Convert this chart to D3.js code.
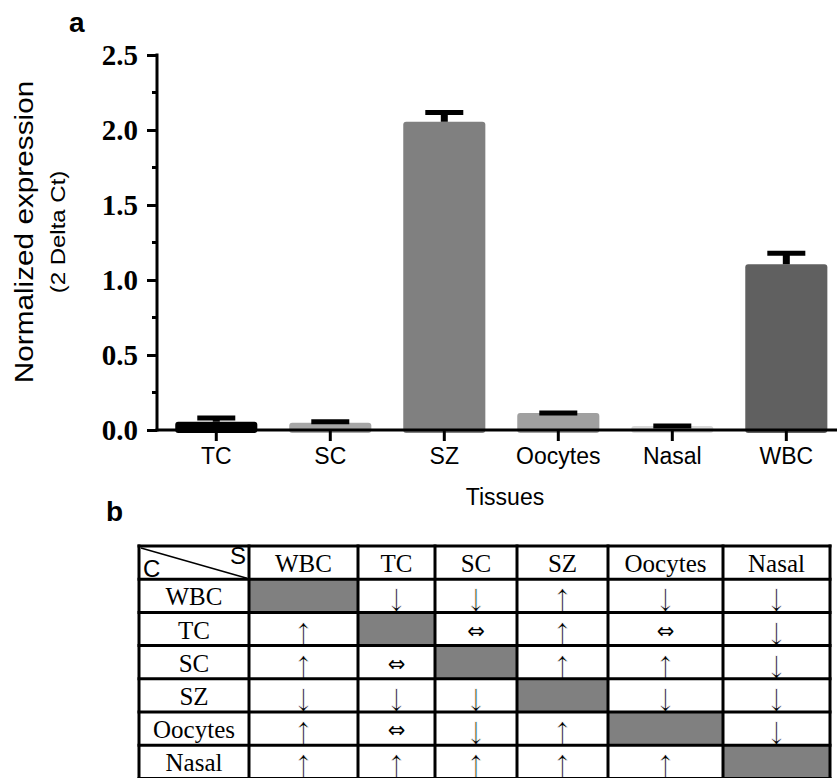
<!DOCTYPE html>
<html>
<head>
<meta charset="utf-8">
<script src="https://cdn.jsdelivr.net/npm/d3@7"></script>
<style>
  html, body { margin: 0; padding: 0; background: #fff; }
  svg { display: block; }
</style>
</head>
<body>
<svg id="chart" width="837" height="778"></svg>
<script>
// ---------- DATA ----------
const categories = ["TC", "SC", "SZ", "Oocytes", "Nasal", "WBC"];
const means      = [0.055, 0.049, 2.055, 0.113, 0.027, 1.105];
const errors     = [0.025, 0.006, 0.062, 0.0, 0.0, 0.074];
const barColors  = ["#000000", "#a6a6a6", "#808080", "#a0a0a0", "#d9d9d9", "#606060"];
const yTicks     = [0, 0.5, 1.0, 1.5, 2.0, 2.5];

const tableCols  = ["WBC", "TC", "SC", "SZ", "Oocytes", "Nasal"];
const tableRows  = ["WBC", "TC", "SC", "SZ", "Oocytes", "Nasal"];
// "x" = shaded (self-comparison) cell
const tableCells = [
  ["x", "↓", "↓", "↑", "↓", "↓"],
  ["↑", "x", "⇔", "↑", "⇔", "↓"],
  ["↑", "⇔", "x", "↑", "↑", "↓"],
  ["↓", "↓", "↓", "x", "↓", "↓"],
  ["↑", "⇔", "↓", "↑", "x", "↓"],
  ["↑", "↑", "↑", "↑", "↑", "x"]
];

// ---------- LAYOUT ----------
const svg = d3.select("#chart");
const sans = "Liberation Sans, Arial, sans-serif";
const serif = "Liberation Serif, Times New Roman, serif";

const x = d3.scaleBand().domain(categories)
  .range([157, 845.6]).paddingInner(0.28).paddingOuter(0.16);
const y = d3.scaleLinear().domain([0, 2.5]).range([430, 55]);

// panel label a
svg.append("text").attr("x", 69).attr("y", 32)
  .attr("font-family", sans).attr("font-weight", "bold").attr("font-size", 28)
  .text("a");

// bars
const g = svg.append("g");
g.selectAll("rect.bar").data(categories).join("rect")
  .attr("class", "bar")
  .attr("x", d => x(d))
  .attr("width", x.bandwidth())
  .attr("y", (d, i) => y(means[i]))
  .attr("height", (d, i) => y(0) - y(means[i]) + 3)
  .attr("rx", 3)
  .attr("fill", (d, i) => barColors[i]);

// error bars (upper)
categories.forEach((c, i) => {
  const cx = x(c) + x.bandwidth() / 2;
  const top = y(means[i] + errors[i]);
  if (errors[i] > 0) {
    g.append("line").attr("x1", cx).attr("x2", cx)
      .attr("y1", y(means[i])).attr("y2", top)
      .attr("stroke", "#000").attr("stroke-width", 7);
  }
  g.append("line").attr("x1", cx - 19).attr("x2", cx + 19)
    .attr("y1", top).attr("y2", top)
    .attr("stroke", "#000").attr("stroke-width", 5);
});

// y axis
const yAxis = d3.axisLeft(y).tickValues(yTicks).tickFormat(d3.format(".1f"))
  .tickSize(10).tickPadding(9);
const ya = svg.append("g").attr("transform", "translate(157,0)").call(yAxis);
ya.select(".domain").remove();
ya.selectAll(".tick line").attr("stroke", "#000").attr("stroke-width", 3);
ya.selectAll(".tick text")
  .attr("font-family", serif).attr("font-weight", "bold").attr("font-size", 29)
  .attr("fill", "#000").attr("dy", "0.33em");
// minor ticks
const minor = d3.range(0.25, 2.5, 0.5);
ya.selectAll(".minor").data(minor).join("line")
  .attr("class", "minor")
  .attr("x1", -5).attr("x2", 0)
  .attr("y1", d => y(d)).attr("y2", d => y(d))
  .attr("stroke", "#000").attr("stroke-width", 3);
svg.append("line").attr("x1", 157).attr("x2", 157)
  .attr("y1", y(2.5) - 1.5).attr("y2", y(0) + 1.5)
  .attr("stroke", "#000").attr("stroke-width", 3);

// x axis
const xAxis = d3.axisBottom(x).tickSize(11).tickPadding(7);
const xa = svg.append("g").attr("transform", "translate(0,430)").call(xAxis);
xa.select(".domain").remove();
xa.selectAll(".tick line").attr("stroke", "#000").attr("stroke-width", 3);
xa.selectAll(".tick text")
  .attr("font-family", sans).attr("font-size", 23).attr("fill", "#000");
svg.append("line").attr("x1", 155.5).attr("x2", 837)
  .attr("y1", 430).attr("y2", 430)
  .attr("stroke", "#000").attr("stroke-width", 3);

// axis titles (stretched along their length as in the reference)
svg.append("text").attr("transform", "translate(33,232) rotate(-90) scale(1.19,1)")
  .attr("text-anchor", "middle").attr("font-family", sans).attr("font-size", 25)
  .text("Normalized expression");
svg.append("text").attr("transform", "translate(65,232) rotate(-90) scale(1.2,1)")
  .attr("text-anchor", "middle").attr("font-family", sans).attr("font-size", 20)
  .text("(2 Delta Ct)");
svg.append("text").attr("x", 505).attr("y", 505)
  .attr("text-anchor", "middle").attr("font-family", sans).attr("font-size", 23)
  .text("Tissues");

// panel label b
svg.append("text").attr("x", 106).attr("y", 521)
  .attr("font-family", sans).attr("font-weight", "bold").attr("font-size", 28)
  .text("b");

// ---------- TABLE ----------
const colEdges = [139, 249, 358, 435, 517, 608, 723, 830];
const rowTop = 546, rowH = 33.2;
const tg = svg.append("g");
const ry = i => rowTop + i * rowH;

// shaded cells and arrows
tableCells.forEach((row, r) => row.forEach((v, c) => {
  const x0 = colEdges[c + 1], x1 = colEdges[c + 2];
  if (v === "x") {
    tg.append("rect").attr("x", x0).attr("y", ry(r + 1))
      .attr("width", x1 - x0).attr("height", rowH).attr("fill", "#808080");
  } else if (v === "⇔") {
    tg.append("text").attr("x", (x0 + x1) / 2)
      .attr("y", ry(r + 2) - 8)
      .attr("text-anchor", "middle")
      .attr("font-family", "DejaVu Sans, sans-serif")
      .attr("font-size", 21)
      .text(v);
  } else {
    tg.append("text").attr("x", (x0 + x1) / 2)
      .attr("y", ry(r + 2) - 1)
      .attr("text-anchor", "middle")
      .attr("font-family", serif)
      .attr("font-size", 40)
      .attr("stroke", "#fff").attr("stroke-width", 0.7)
      .text(v);
  }
}));

// header labels
tableCols.forEach((c, i) => {
  tg.append("text").attr("x", (colEdges[i + 1] + colEdges[i + 2]) / 2)
    .attr("y", ry(1) - 7).attr("text-anchor", "middle")
    .attr("font-family", serif).attr("font-size", 25).text(c);
});
// row labels
tableRows.forEach((rName, r) => {
  tg.append("text").attr("x", (colEdges[0] + colEdges[1]) / 2)
    .attr("y", ry(r + 2) - 7).attr("text-anchor", "middle")
    .attr("font-family", serif).attr("font-size", 25).text(rName);
});

// corner cell
tg.append("line").attr("x1", colEdges[0] + 2).attr("y1", rowTop + 2)
  .attr("x2", colEdges[1] - 2).attr("y2", ry(1) - 1)
  .attr("stroke", "#000").attr("stroke-width", 1.5);
tg.append("text").attr("x", colEdges[0] + 4).attr("y", ry(1) - 2)
  .attr("font-family", sans).attr("font-size", 24).text("C");
tg.append("text").attr("x", colEdges[1] - 3).attr("y", rowTop + 18)
  .attr("text-anchor", "end").attr("font-family", sans).attr("font-size", 24).text("S");

// grid lines
for (let r = 0; r <= 7; r++) {
  tg.append("line").attr("x1", colEdges[0] - 1.5).attr("x2", colEdges[7] + 1.5)
    .attr("y1", ry(r)).attr("y2", ry(r))
    .attr("stroke", "#000").attr("stroke-width", 3);
}
colEdges.forEach(cx => {
  tg.append("line").attr("x1", cx).attr("x2", cx)
    .attr("y1", rowTop - 1.5).attr("y2", ry(7) + 1.5)
    .attr("stroke", "#000").attr("stroke-width", 3);
});
</script>
</body>
</html>
